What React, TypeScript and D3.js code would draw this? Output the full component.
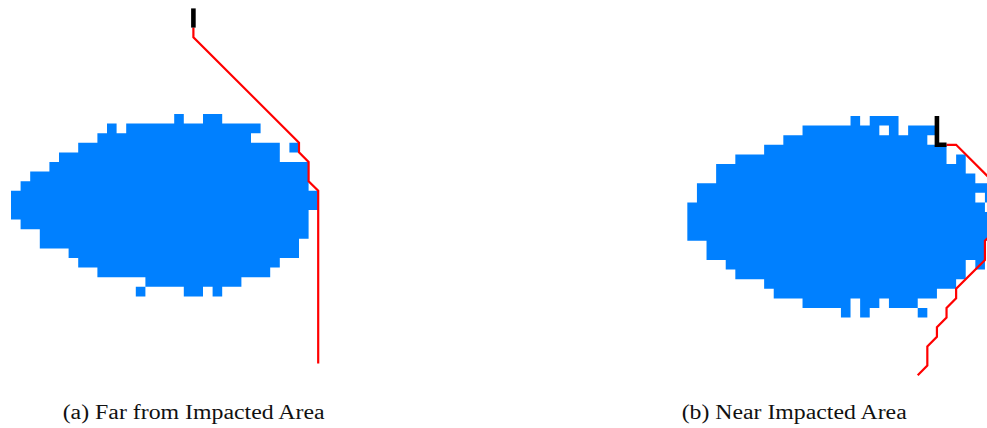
import React from "react";
import * as d3 from "d3";

// Occupied grid cells of each impact blob, one entry per row: [firstCol, lastCol] runs.
const farBlobRuns: [number, number][][] = [
  [[17, 17], [20, 21]],
  [[10, 10], [12, 25]],
  [[9, 24]],
  [[7, 27], [29, 29]],
  [[5, 27]],
  [[4, 30]],
  [[2, 30]],
  [[1, 30]],
  [[0, 31]],
  [[0, 31]],
  [[0, 30]],
  [[1, 30]],
  [[3, 30]],
  [[3, 29]],
  [[6, 29]],
  [[7, 27]],
  [[9, 26]],
  [[14, 23]],
  [[13, 13], [18, 19], [21, 21]],
];

const nearBlobRuns: [number, number][][] = [
  [[17, 17], [19, 21]],
  [[12, 19], [21, 21], [23, 25]],
  [[10, 24]],
  [[8, 26]],
  [[5, 26], [28, 28]],
  [[3, 28]],
  [[3, 29]],
  [[1, 33]],
  [[1, 29], [31, 33]],
  [[0, 30]],
  [[0, 33]],
  [[0, 33]],
  [[0, 33]],
  [[2, 30]],
  [[2, 30]],
  [[4, 28], [30, 30]],
  [[5, 28]],
  [[8, 27]],
  [[9, 25]],
  [[12, 16], [18, 19], [21, 23]],
  [[16, 16], [18, 18], [24, 24]],
];

// Travelled segment (black) and planned route (red), as grid-corner vertices [col, row].
const farTravelled: [number, number][] = [[19, -11], [19, -9]];
const farRoute: [number, number][] = [
  [19, -9], [19, -8], [30, 3], [30, 4], [31, 5], [31, 7], [32, 8], [32, 26],
];
const nearTravelled: [number, number][] = [[26, 0], [26, 3], [27, 3]];
const nearRoute: [number, number][] = [
  [27, 3], [28, 3], [33, 8], [33, 11], [32, 12], [31, 13], [31, 15],
  [28, 18], [28, 19], [27, 20], [27, 21], [26, 22], [26, 23], [25, 24], [25, 26], [24, 27],
];

const captions = ["(a) Far from Impacted Area", "(b) Near Impacted Area"];

const W = 987;
const H = 428;
const CELL = 9.6;

type Panel = {
  runs: [number, number][][];
  travelled: [number, number][];
  route: [number, number][];
  caption: string;
  origin: [number, number];
  captionX: number;
  captionY: number;
  captionLen: number;
};

const panels: Panel[] = [
  {
    runs: farBlobRuns,
    travelled: farTravelled,
    route: farRoute,
    caption: captions[0],
    origin: [11, 114],
    captionX: 62.7,
    captionY: 419,
    captionLen: 262,
  },
  {
    runs: nearBlobRuns,
    travelled: nearTravelled,
    route: nearRoute,
    caption: captions[1],
    origin: [687.33, 116],
    captionX: 681.7,
    captionY: 418.5,
    captionLen: 225,
  },
];

function PanelView({ p }: { p: Panel }) {
  const x = d3.scaleLinear().domain([0, 1]).range([p.origin[0], p.origin[0] + CELL]);
  const y = d3.scaleLinear().domain([0, 1]).range([p.origin[1], p.origin[1] + CELL]);

  const blob = d3.path();
  p.runs.forEach((row, r) => {
    row.forEach(([c0, c1]) => {
      blob.rect(x(c0), y(r), x(c1 + 1) - x(c0), y(r + 1) - y(r));
    });
  });

  const line = d3
    .line<[number, number]>()
    .x((d) => x(d[0]))
    .y((d) => y(d[1]));

  return (
    <g>
      <path d={blob.toString()} fill="#0080ff" />
      <path d={line(p.route) ?? ""} fill="none" stroke="#ff0000" strokeWidth={2.2} strokeLinejoin="miter" />
      <path d={line(p.travelled) ?? ""} fill="none" stroke="#000000" strokeWidth={4.6} strokeLinejoin="miter" />
      <text
        x={p.captionX}
        y={p.captionY}
        fontFamily="'Liberation Serif', 'Times New Roman', serif"
        fontSize={20}
        fill="#111"
        textLength={p.captionLen}
        lengthAdjust="spacingAndGlyphs"
      >
        {p.caption}
      </text>
    </g>
  );
}

export default function App() {
  return (
    <div style={{ position: "absolute", left: 0, top: 0, width: W, height: H, overflow: "hidden", background: "#fff" }}>
      <svg width={W} height={H} viewBox={`0 0 ${W} ${H}`} style={{ display: "block" }}>
        <rect width={W} height={H} fill="#ffffff" />
        {panels.map((p, i) => (
          <PanelView key={i} p={p} />
        ))}
      </svg>
    </div>
  );
}
